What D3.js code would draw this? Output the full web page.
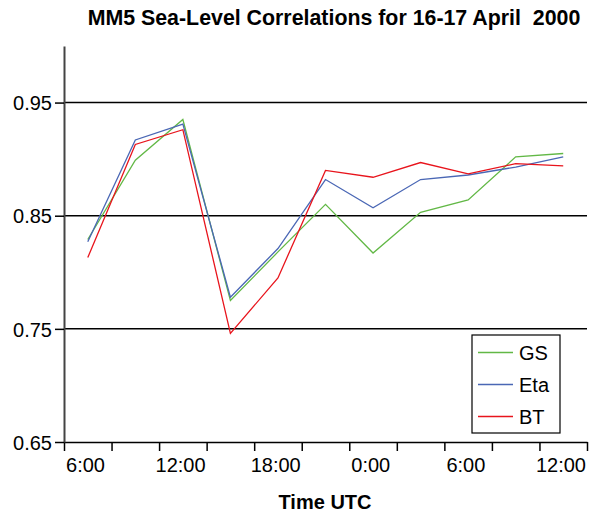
<!DOCTYPE html>
<html lang="en">
<head>
  <meta charset="UTF-8">
  <title>MM5 Sea-Level Correlations</title>
  <script src="https://d3js.org/d3.v7.min.js"></script>
  <style>
    body { margin: 0; background: #fff; }
    svg text { font-family: "Liberation Sans", Arial, Helvetica, sans-serif; fill: #000; }
  </style>
</head>
<body>
<div id="chart"></div>

<script>
// hours since 0:00 on 16 April (values past 24 are on 17 April)
var hours = [7.5, 10.5, 13.5, 16.5, 19.5, 22.5, 25.5, 28.5, 31.5, 34.5, 37.5];

var gsValues  = [0.829, 0.899, 0.935, 0.775, 0.818, 0.860, 0.817, 0.853, 0.864, 0.902, 0.905];
var etaValues = [0.827, 0.917, 0.931, 0.778, 0.821, 0.882, 0.857, 0.882, 0.886, 0.893, 0.902];
var btValues  = [0.813, 0.913, 0.926, 0.746, 0.795, 0.890, 0.884, 0.897, 0.887, 0.896, 0.894];

var seriesNames = ["GS", "Eta", "BT"];
var seriesColors = ["#62b846", "#4a67b5", "#e8141c"];

var xTickHours = [6, 9, 12, 15, 18, 21, 24, 27, 30, 33, 36, 39];
var xTickLabels = ["6:00", "", "12:00", "", "18:00", "", "0:00", "", "6:00", "", "12:00", ""];
var yTicks = [0.65, 0.75, 0.85, 0.95];

var series = seriesNames.map(function(name, i) {
  var vals = [gsValues, etaValues, btValues][i];
  return { name: name, color: seriesColors[i],
           points: hours.map(function(h, j) { return { h: h, v: vals[j] }; }) };
});

/* ===== sizes ===== */
var W = 590, H = 516;
var margin = { left: 64, right: 3, top: 46, bottom: 74 };

var svg = d3.select("#chart").append("svg")
  .attr("width", W).attr("height", H);

var x = d3.scaleLinear().domain([6, 39]).range([margin.left, W - margin.right]);
var y = d3.scaleLinear().domain([0.65, 1.0]).range([H - margin.bottom, margin.top]);

/* ===== grid lines ===== */
svg.append("g").selectAll("line")
  .data(yTicks.slice(1))
  .join("line")
  .attr("x1", x(6)).attr("x2", x(39))
  .attr("y1", function(d) { return y(d); })
  .attr("y2", function(d) { return y(d); })
  .attr("stroke", "#000").attr("stroke-width", 1.5);

/* ===== x axis ===== */
var xAxis = d3.axisBottom(x)
  .tickValues(xTickHours)
  .tickSize(9)
  .tickSizeOuter(0)
  .tickFormat(function(d, i) { return xTickLabels[i]; });

var gx = svg.append("g")
  .attr("transform", "translate(0," + y(0.65) + ")")
  .call(xAxis);
gx.select(".domain").attr("stroke", "#000").attr("stroke-width", 1.5);
gx.selectAll(".tick line").attr("stroke", "#000").attr("stroke-width", 1.5);
gx.selectAll(".tick text")
  .attr("font-size", 20)
  .attr("dx", 21)
  .attr("y", 16)
  .attr("dy", "0.71em");

/* ===== y axis ===== */
var yAxis = d3.axisLeft(y)
  .tickValues(yTicks)
  .tickSize(9)
  .tickSizeOuter(0)
  .tickFormat(d3.format(".2f"));

var gy = svg.append("g")
  .attr("transform", "translate(" + x(6) + ",0)")
  .call(yAxis);
gy.select(".domain").attr("stroke", "#444").attr("stroke-width", 2);
gy.selectAll(".tick line").attr("stroke", "#000").attr("stroke-width", 1.5);
gy.selectAll(".tick text")
  .attr("font-size", 20)
  .attr("x", -12)
  .attr("dy", "0.36em");

/* ===== lines ===== */
var line = d3.line()
  .x(function(d) { return x(d.h); })
  .y(function(d) { return y(d.v); });

svg.append("g").selectAll("path")
  .data(series)
  .join("path")
  .attr("d", function(d) { return line(d.points); })
  .attr("fill", "none")
  .attr("stroke", function(d) { return d.color; })
  .attr("stroke-width", 1.3);

/* ===== legend ===== */
var legend = svg.append("g").attr("transform", "translate(472,335)");
legend.append("rect")
  .attr("width", 88).attr("height", 98)
  .attr("fill", "#fff").attr("stroke", "#000").attr("stroke-width", 1.2);

var rows = legend.selectAll(".row")
  .data(series)
  .join("g")
  .attr("class", "row")
  .attr("transform", function(d, i) { return "translate(0," + (17.5 + i * 32) + ")"; });
rows.append("line")
  .attr("x1", 6).attr("x2", 41)
  .attr("stroke", function(d) { return d.color; })
  .attr("stroke-width", 1.3);
rows.append("text")
  .attr("x", 47).attr("dy", "0.36em")
  .attr("font-size", 20)
  .text(function(d) { return d.name; });

/* ===== titles ===== */
svg.append("text")
  .attr("x", 334).attr("y", 25)
  .attr("text-anchor", "middle")
  .attr("font-size", 21.35).attr("font-weight", "bold")
  .attr("xml:space", "preserve")
  .style("white-space", "pre")
  .text("MM5 Sea-Level Correlations for 16-17 April  2000");

svg.append("text")
  .attr("x", 325).attr("y", 509)
  .attr("text-anchor", "middle")
  .attr("font-size", 20).attr("font-weight", "bold")
  .text("Time UTC");
</script>
</body>
</html>
